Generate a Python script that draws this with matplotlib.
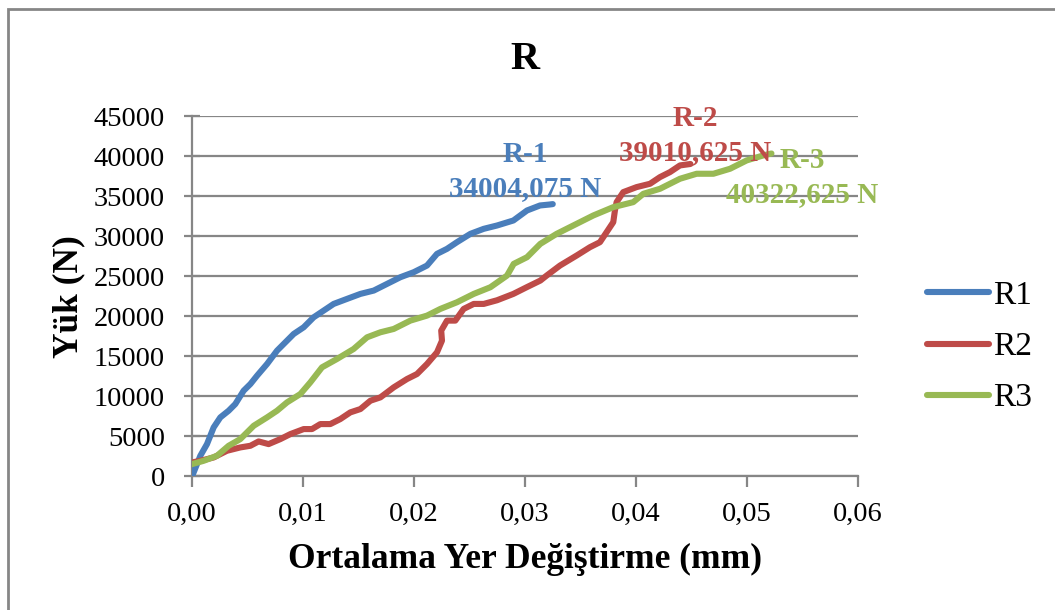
import matplotlib.pyplot as plt
from matplotlib.patches import Rectangle
from matplotlib.ticker import FuncFormatter

# R1 numune: yer degistirme (mm) / yuk (N)
r1_x = [0.0, 0.00075, 0.00135, 0.00195, 0.00255, 0.0033, 0.0039, 0.00465, 0.00526,
        0.00586, 0.00676, 0.00766, 0.00856, 0.00916, 0.01006, 0.01096, 0.01186, 0.01276,
        0.01396, 0.01517, 0.01637, 0.01757, 0.01877, 0.01997, 0.02117, 0.02207, 0.02297,
        0.02387, 0.02508, 0.02628, 0.02748, 0.02895, 0.03018, 0.03135, 0.0322, 0.0325]
r1_y = [0, 2583, 4042, 6125, 7375, 8208, 9042, 10708, 11542,
        12583, 14042, 15708, 16958, 17792, 18625, 19875, 20708, 21542,
        22167, 22792, 23208, 24042, 24875, 25500, 26333, 27792, 28417,
        29250, 30292, 30917, 31333, 31958, 33208, 33833, 33950, 34004.075]

# R2 numune
r2_x = [0.0, 0.00075, 0.00195, 0.00315, 0.00435, 0.00526, 0.006, 0.0069, 0.00796,
        0.00886, 0.01006, 0.01081, 0.01156, 0.01246, 0.01336, 0.01426, 0.01517, 0.01607,
        0.01697, 0.01817, 0.01937, 0.02027, 0.02117, 0.02207, 0.02252, 0.02245, 0.02297,
        0.02372, 0.02447, 0.02538, 0.02628, 0.02748, 0.02895, 0.03015, 0.03138, 0.03195,
        0.03315, 0.03465, 0.03585, 0.03675, 0.03735, 0.03795, 0.0381, 0.03825, 0.03885,
        0.04005, 0.04126, 0.04216, 0.04306, 0.04396, 0.0449]
r2_y = [1750, 1958, 2375, 3208, 3625, 3833, 4375, 4042, 4667,
        5292, 5917, 5917, 6542, 6542, 7167, 8000, 8417, 9458,
        9875, 11125, 12167, 12792, 14042, 15500, 16958, 18208, 19458,
        19458, 20917, 21542, 21542, 22000, 22792, 23625, 24458, 25083,
        26333, 27583, 28625, 29250, 30500, 31750, 33208, 34250, 35500,
        36125, 36542, 37375, 38000, 38833, 39010.625]

# R3 numune
r3_x = [0.0, 0.00105, 0.00225, 0.0033, 0.00435, 0.00556, 0.00676, 0.00766, 0.00856,
        0.00976, 0.01066, 0.01171, 0.01306, 0.01456, 0.01577, 0.01697, 0.01817, 0.01967,
        0.02117, 0.02237, 0.02387, 0.02538, 0.02688, 0.02838, 0.02898, 0.03018, 0.03138,
        0.03285, 0.03465, 0.03615, 0.03795, 0.03975, 0.04066, 0.04216, 0.04396, 0.04546,
        0.04697, 0.04847, 0.04997, 0.05147, 0.0522]
r3_y = [1542, 1958, 2583, 3833, 4667, 6333, 7375, 8208, 9250,
        10292, 11750, 13625, 14667, 15917, 17375, 18000, 18417, 19458,
        20083, 20917, 21750, 22792, 23625, 25083, 26542, 27375, 29042,
        30292, 31542, 32583, 33625, 34250, 35292, 35917, 37167, 37792,
        37792, 38417, 39458, 40083, 40322.625]

names = ['R1', 'R2', 'R3']
peaks = ['34004,075 N', '39010,625 N', '40322,625 N']
tags = ['R-1', 'R-2', 'R-3']
colors = ['#4A7EBB', '#BE4B48', '#98B954']

plt.rcParams['font.family'] = ['Liberation Serif', 'DejaVu Serif']

fig = plt.figure(figsize=(10.55, 6.10), dpi=100)
# grey chart frame (only top and left edges fall inside the image)
fig.patches.append(Rectangle((8 / 1055, -0.05), 1.2, (601 / 610) + 0.05,
                             transform=fig.transFigure, fill=False,
                             edgecolor='#868686', linewidth=2))

ax = fig.add_axes([0.182, 0.2189, 0.6313, 0.5909])

for xs, ys, name, c in zip([r1_x, r2_x, r3_x], [r1_y, r2_y, r3_y], names, colors):
    ax.plot(xs, ys, color=c, linewidth=4.4, solid_capstyle='round', label=name, zorder=3)

ax.set_xlim(0, 0.06)
ax.set_ylim(0, 45000)
ax.set_xticks([0.0, 0.01, 0.02, 0.03, 0.04, 0.05, 0.06])
ax.set_yticks(range(0, 45001, 5000))
ax.xaxis.set_major_formatter(FuncFormatter(lambda v, p: f'{v:.2f}'.replace('.', ',')))
ax.yaxis.set_major_formatter(FuncFormatter(lambda v, p: f'{int(v)}'))

ax.grid(axis='y', color='#868686', linewidth=1.6)
ax.set_axisbelow(True)
for s in ['top', 'right']:
    ax.spines[s].set_visible(False)
for s in ['left', 'bottom']:
    ax.spines[s].set_color('#868686')
    ax.spines[s].set_linewidth(1.6)
ax.tick_params(axis='both', colors='#868686', labelcolor='black', labelsize=20.5, width=1.6)
ax.tick_params(axis='y', direction='inout', length=11, pad=14)
ax.tick_params(axis='x', direction='out', length=8, pad=10)

ax.set_xlabel('Ortalama Yer Değiştirme (mm)', fontsize=25.5, fontweight='bold', labelpad=12)
ax.set_ylabel('Yük (N)', fontsize=25.5, fontweight='bold', labelpad=6)
ax.set_title('R', fontsize=29, fontweight='bold', pad=34)

# peak labels
label_pos = [(0.0300, 40200), (0.0453, 44700), (0.0550, 39500)]
for (lx, ly), tag, pk, c in zip(label_pos, tags, peaks, colors):
    ax.text(lx, ly, tag, color=c, fontsize=21, fontweight='bold', ha='center', va='center')
    ax.text(lx, ly - 4300, pk, color=c, fontsize=21, fontweight='bold', ha='center', va='center')

leg = fig.legend(*ax.get_legend_handles_labels(), loc='center left',
                 bbox_to_anchor=(927 / 1055, (610 - 347) / 610), frameon=False,
                 fontsize=24, handlelength=1.85, handletextpad=0.12, labelspacing=0.62,
                 borderpad=0, borderaxespad=0)

fig.savefig('out.png', dpi=100)
